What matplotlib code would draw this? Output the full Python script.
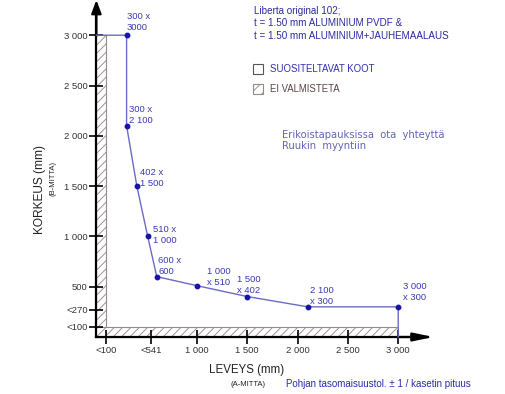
import numpy as np
import matplotlib
matplotlib.use('Agg')
import matplotlib.pyplot as plt
from matplotlib.patches import Rectangle

plt.rcParams['font.family'] = ['Liberation Sans', 'DejaVu Sans']

# mitat (mm)
leveys = [0, 300, 300, 402, 510, 600, 1000, 1500, 2100, 3000, 3000]
korkeus = [3000, 3000, 2100, 1500, 1000, 600, 510, 402, 300, 300, 0]
piste_x = [300, 300, 402, 510, 600, 1000, 1500, 2100, 3000]
piste_y = [3000, 2100, 1500, 1000, 600, 510, 402, 300, 300]
piste_tekstit = ['300 x\n3000', '300 x\n2 100', '402 x\n1 500', '510 x\n1 000', '600 x\n600',
                 '1 000\nx 510', '1 500\nx 402', '2 100\nx 300', '3 000\nx 300']
x_ticks = [100, 541, 1000, 1500, 2000, 2500, 3000]
x_ticklabels = ['<100', '<541', '1 000', '1 500', '2 000', '2 500', '3 000']
y_ticks = [100, 270, 500, 1000, 1500, 2000, 2500, 3000]
y_ticklabels = ['<100', '<270', '500', '1 000', '1 500', '2 000', '2 500', '3 000']
raja = 100  # ei valmisteta alle tämän

# tekstien siirrot pisteestä (pikseliä)
siirrot = [(0, 13), (2.5, 11), (3, 8), (5, 1.5), (1.5, 10.5), (10.5, 8.7), (-10, 11.6), (2.5, 10.5), (4.5, 14.8)]

s = 0.1006  # px / mm
x0, y0 = 96.4, 337.0
W, H = 505, 394


def p2d(px, py):  # kuvan pikselit -> data
    return (px - x0) / s, (y0 - py) / s


fig = plt.figure(figsize=(W / 100, H / 100), dpi=100)
ax = fig.add_axes([0, 0, 1, 1])
ax.set_xlim(p2d(0, 0)[0], p2d(W, 0)[0])
ax.set_ylim(p2d(0, H)[1], p2d(0, 0)[1])

# akselit
for k in ['top', 'right']:
    ax.spines[k].set_visible(False)
ax.spines['left'].set_position(('data', 0))
ax.spines['bottom'].set_position(('data', 0))
ax.spines['left'].set_bounds(0, 3300)
ax.spines['bottom'].set_bounds(0, 3300)
ax.spines['left'].set_linewidth(1.6)
ax.spines['bottom'].set_linewidth(1.6)
ax.set_facecolor('white')

ax.set_xticks(x_ticks)
ax.set_xticklabels(x_ticklabels)
ax.set_yticks(y_ticks)
ax.set_yticklabels(y_ticklabels)
ax.tick_params(direction='inout', length=9.5, width=1.2, labelsize=6.8, labelcolor='#333333', pad=1.5)

kk = ax.get_ylim()[1]
ax.annotate('', xy=(0, kk), xytext=(0, 3000), arrowprops=dict(arrowstyle='-|>,head_length=0.8,head_width=0.3',
            lw=1.6, color='black', shrinkA=0, shrinkB=0))
ax.annotate('', xy=(3350, 0), xytext=(3000, 0), arrowprops=dict(arrowstyle='-|>,head_length=1.2,head_width=0.25',
            lw=1.6, color='black', shrinkA=0, shrinkB=0))

# ei valmisteta -alueet
hc = '#9a8b8b'
plt.rcParams['hatch.color'] = hc
plt.rcParams['hatch.linewidth'] = 0.65
ax.add_patch(Rectangle((0, 0), raja, 3000, facecolor='white', edgecolor=hc, hatch='////', lw=0.8, zorder=1))
ax.add_patch(Rectangle((0, 0), 3000, raja, facecolor='white', edgecolor=hc, hatch='////', lw=0.8, zorder=1))

# suositeltavat koot
ax.plot(leveys, korkeus, '-', color='#6b6bc8', lw=1, zorder=3)
ax.plot(piste_x, piste_y, 'o', color='#1414a8', ms=3.2, zorder=4)
for x, y, t, o in zip(piste_x, piste_y, piste_tekstit, siirrot):
    ax.annotate(t, (x, y), xytext=o, textcoords='offset pixels', ha='left', va='center',
                fontsize=6.8, color='#3a3ab4', linespacing=1.25)

# akselien nimet
ax.text(*p2d(40, 190), 'KORKEUS (mm)', rotation=90, ha='center', va='center', fontsize=8.6, color='#222222')
ax.text(*p2d(53, 179), '(B-MITTA)', rotation=90, ha='center', va='center', fontsize=5.5, color='#222222')
ax.text(*p2d(247, 370), 'LEVEYS (mm)', ha='center', va='center', fontsize=8.3, color='#222222')
ax.text(*p2d(248, 384), '(A-MITTA)', ha='center', va='center', fontsize=5.5, color='#222222')
ax.text(*p2d(286, 384), 'Pohjan tasomaisuustol. ± 1 / kasetin pituus', ha='left', va='center', fontsize=7,
        color='#2b2bb0')

# otsikko ja selitteet
ax.text(*p2d(254, 5.5), 'Liberta original 102;\nt = 1.50 mm ALUMINIUM PVDF &\nt = 1.50 mm ALUMINIUM+JAUHEMAALAUS',
        ha='left', va='top', fontsize=7.1, color='#2b2ba0', linespacing=1.35)
bx, by = p2d(253, 74)
ax.add_patch(Rectangle((bx, by), 10 / s, 10 / s, facecolor='white', edgecolor='#555555', lw=0.8))
ax.text(*p2d(270, 69.5), 'SUOSITELTAVAT KOOT', ha='left', va='center', fontsize=6.9, color='#3030b0')
bx, by = p2d(253, 94)
ax.add_patch(Rectangle((bx, by), 10 / s, 10 / s, facecolor='white', edgecolor=hc, hatch='///', lw=0.8))
ax.text(*p2d(270, 89.5), 'EI VALMISTETA', ha='left', va='center', fontsize=6.9, color='#5a4545')

ax.text(*p2d(282, 140.5), 'Erikoistapauksissa  ota  yhteyttä\nRuukin  myyntiin', ha='left', va='center',
        fontsize=7.2, color='#6464b4', family='DejaVu Sans', linespacing=1.15)

fig.savefig('out.png', dpi=100)
